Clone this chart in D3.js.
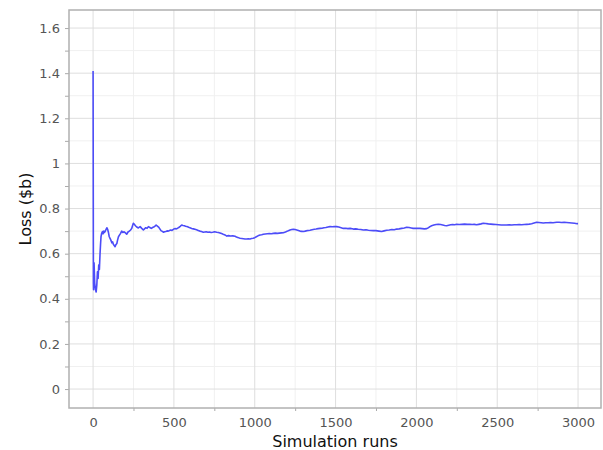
<!DOCTYPE html>
<html>
<head>
<meta charset="utf-8">
<script src="https://cdn.jsdelivr.net/npm/d3@7"></script>
<style>
  html, body { margin: 0; padding: 0; background: #fff; }
  svg { display: block; }
</style>
</head>
<body>
<svg id="chart" width="603" height="450"></svg>
<script>
// Running mean of simulated loss after each simulation run
const runs = [
  0, 2, 3, 6, 10, 15, 19, 23, 27, 31, 35, 39, 43, 46, 49, 53, 58, 62, 66, 70,
  74, 79, 85, 90, 95, 100, 105, 110, 116, 121, 126, 131, 136, 141, 147, 152,
  157, 163, 170, 177, 184, 192, 200, 208, 216, 224, 232, 239, 244, 249, 255,
  262, 270, 280, 291, 301, 311, 318, 326, 334, 342, 351, 360, 368, 375, 383,
  390, 398, 405, 413, 420, 428, 435, 443, 450, 458, 465, 473, 480, 488, 497,
  506, 515, 523, 530, 539, 548, 556, 565, 572, 580, 588, 595, 603, 610, 620,
  630, 640, 650, 660, 670, 682, 691, 700, 710, 720, 730, 740, 752, 765, 775,
  785, 795, 805, 816, 827, 838, 850, 864, 878, 887, 895, 902, 909, 920, 930,
  940, 950, 960, 971, 980, 990, 1000, 1010, 1020, 1033, 1043, 1053, 1065,
  1078, 1090, 1103, 1115, 1128, 1140, 1152, 1165, 1177, 1190, 1200, 1208,
  1218, 1229, 1239, 1250, 1260, 1270, 1280, 1290, 1301, 1312, 1322, 1332,
  1342, 1355, 1368, 1380, 1392, 1404, 1416, 1428, 1440, 1453, 1466, 1480,
  1493, 1507, 1520, 1534, 1548, 1562, 1576, 1590, 1610, 1625, 1640, 1656,
  1672, 1688, 1703, 1718, 1734, 1750, 1768, 1785, 1800, 1816, 1832, 1848,
  1863, 1878, 1893, 1909, 1925, 1940, 1955, 1968, 1980, 1995, 2008, 2022,
  2036, 2050, 2064, 2072, 2080, 2087, 2094, 2108, 2122, 2136, 2150, 2163,
  2175, 2187, 2200, 2212, 2224, 2237, 2249, 2265, 2282, 2298, 2315, 2331,
  2345, 2358, 2372, 2386, 2400, 2414, 2428, 2445, 2460, 2476, 2492, 2508,
  2525, 2541, 2558, 2574, 2590, 2605, 2620, 2636, 2651, 2667, 2682, 2698,
  2713, 2728, 2744, 2758, 2772, 2785, 2800, 2815, 2830, 2845, 2856, 2868,
  2883, 2898, 2914, 2929, 2945, 2962, 2978, 2995, 3000
];
const loss = [
  1.410, 0.470, 0.440, 0.560, 0.470, 0.440, 0.430, 0.460, 0.520, 0.490, 0.550, 0.530, 0.600, 0.640, 0.675, 0.690, 0.698, 0.688, 0.700, 0.694,
  0.698, 0.706, 0.715, 0.708, 0.694, 0.675, 0.668, 0.660, 0.648, 0.652, 0.641, 0.636, 0.631, 0.640, 0.645, 0.662,
  0.675, 0.682, 0.690, 0.700, 0.694, 0.697, 0.692, 0.686, 0.696, 0.700, 0.705, 0.712, 0.724, 0.735, 0.730,
  0.724, 0.718, 0.714, 0.720, 0.712, 0.705, 0.710, 0.715, 0.712, 0.720, 0.716, 0.712, 0.716, 0.718, 0.722,
  0.727, 0.722, 0.718, 0.710, 0.702, 0.699, 0.695, 0.697, 0.698, 0.701, 0.700, 0.703, 0.705, 0.703, 0.708,
  0.711, 0.710, 0.713, 0.716, 0.721, 0.727, 0.725, 0.724, 0.722, 0.720, 0.718, 0.716, 0.714, 0.712, 0.710,
  0.708, 0.706, 0.703, 0.700, 0.698, 0.695, 0.696, 0.697, 0.695, 0.696, 0.694, 0.695, 0.697, 0.695, 0.694,
  0.692, 0.689, 0.686, 0.683, 0.678, 0.680, 0.678, 0.679, 0.677, 0.674, 0.672, 0.670, 0.668, 0.667, 0.666,
  0.665, 0.665, 0.666, 0.665, 0.667, 0.668, 0.671, 0.675, 0.679, 0.683, 0.684, 0.686, 0.687,
  0.688, 0.689, 0.688, 0.690, 0.691, 0.690, 0.691, 0.692, 0.693, 0.696, 0.699, 0.702,
  0.705, 0.707, 0.708, 0.707, 0.705, 0.703, 0.700, 0.699, 0.698, 0.700, 0.702, 0.703,
  0.704, 0.706, 0.708, 0.709, 0.711, 0.712, 0.713, 0.715, 0.716, 0.718, 0.720, 0.719,
  0.720, 0.720, 0.718, 0.715, 0.712, 0.713, 0.711, 0.712, 0.709, 0.710, 0.708, 0.707,
  0.705, 0.706, 0.704, 0.703, 0.702, 0.702, 0.700, 0.698, 0.701, 0.704, 0.705, 0.707,
  0.706, 0.709, 0.710, 0.712, 0.714, 0.717, 0.716, 0.714, 0.712, 0.713, 0.712, 0.712,
  0.711, 0.710, 0.711, 0.714, 0.718, 0.721, 0.724, 0.727, 0.729, 0.730, 0.729, 0.727,
  0.725, 0.724, 0.726, 0.728, 0.729, 0.728, 0.730, 0.729, 0.730, 0.731, 0.730, 0.730,
  0.729, 0.730, 0.728, 0.730, 0.732, 0.735, 0.734, 0.732, 0.731, 0.730, 0.729, 0.728,
  0.727, 0.727, 0.727, 0.728, 0.727, 0.728, 0.728, 0.729, 0.728, 0.729, 0.730, 0.731,
  0.733, 0.736, 0.739, 0.738, 0.737, 0.736, 0.737, 0.737, 0.738, 0.737, 0.738, 0.739,
  0.739, 0.738, 0.739, 0.738, 0.737, 0.736, 0.735, 0.733, 0.733
];

const xTicks = [0, 500, 1000, 1500, 2000, 2500, 3000];
const xMinor = [250, 750, 1250, 1750, 2250, 2750];
const yTicks = [0, 0.2, 0.4, 0.6, 0.8, 1.0, 1.2, 1.4, 1.6];
const yMinor = [0.1, 0.3, 0.5, 0.7, 0.9, 1.1, 1.3, 1.5];
const xTitle = "Simulation runs";
const yTitle = "Loss ($b)";

const plot = { left: 69, right: 601, top: 10, bottom: 408 };
const font = "'DejaVu Sans', sans-serif";

const x = d3.scaleLinear().domain([-149, 3142]).range([plot.left, plot.right]);
const y = d3.scaleLinear().domain([-0.084, 1.68]).range([plot.bottom, plot.top]);

const svg = d3.select("#chart");

// grid: minor first, then major
const grid = svg.append("g");
grid.selectAll(".vminor").data(xMinor).join("line")
  .attr("x1", d => x(d)).attr("x2", d => x(d))
  .attr("y1", plot.top).attr("y2", plot.bottom)
  .attr("stroke", "#f0f0f0").attr("stroke-width", 1);
grid.selectAll(".hminor").data(yMinor).join("line")
  .attr("x1", plot.left).attr("x2", plot.right)
  .attr("y1", d => y(d)).attr("y2", d => y(d))
  .attr("stroke", "#f0f0f0").attr("stroke-width", 1);
grid.selectAll(".vmajor").data(xTicks).join("line")
  .attr("x1", d => x(d)).attr("x2", d => x(d))
  .attr("y1", plot.top).attr("y2", plot.bottom)
  .attr("stroke", "#dedede").attr("stroke-width", 1);
grid.selectAll(".hmajor").data(yTicks).join("line")
  .attr("x1", plot.left).attr("x2", plot.right)
  .attr("y1", d => y(d)).attr("y2", d => y(d))
  .attr("stroke", "#dedede").attr("stroke-width", 1);

// axes: labelled major ticks, short minor tick marks
const xAxis = d3.axisBottom(x).tickValues(xTicks)
  .tickSize(0).tickPadding(10)
  .tickFormat(d3.format("d"));
const xMinorAxis = d3.axisBottom(x).tickValues(xMinor).tickSize(3).tickFormat("");
const yAxis = d3.axisLeft(y).tickValues(yTicks.concat(yMinor))
  .tickSize(4).tickPadding(5)
  .tickFormat(d => yTicks.some(t => Math.abs(t - d) < 1e-9) ? d3.format("~g")(d) : "");

const gx = svg.append("g").attr("transform", `translate(0,${plot.bottom})`).call(xAxis);
const gxm = svg.append("g").attr("transform", `translate(0,${plot.bottom})`).call(xMinorAxis);
const gy = svg.append("g").attr("transform", `translate(${plot.left},0)`).call(yAxis);
[gx, gxm, gy].forEach(g => {
  g.select(".domain").remove();
  g.selectAll(".tick line").attr("stroke", "#aaaaaa");
  g.selectAll(".tick text").attr("fill", "#555555")
    .style("font-family", font).style("font-size", "13px");
});

// series line
const line = d3.line().x((d, i) => x(runs[i])).y(d => y(d));
svg.append("path")
  .datum(loss)
  .attr("d", line)
  .attr("fill", "none")
  .attr("stroke", "#4c4cf8")
  .attr("stroke-width", 1.6)
  .attr("stroke-linejoin", "round");

// frame
svg.append("rect")
  .attr("x", plot.left).attr("y", plot.top)
  .attr("width", plot.right - plot.left).attr("height", plot.bottom - plot.top)
  .attr("fill", "none").attr("stroke", "#b0b0b0").attr("stroke-width", 1.5);

// axis titles
svg.append("text")
  .attr("x", (plot.left + plot.right) / 2).attr("y", 447)
  .attr("text-anchor", "middle")
  .style("font-family", font).style("font-size", "16px").attr("fill", "#111")
  .text(xTitle);
svg.append("text")
  .attr("transform", `translate(31,${(plot.top + plot.bottom) / 2}) rotate(-90)`)
  .attr("text-anchor", "middle")
  .style("font-family", font).style("font-size", "16px").attr("fill", "#111")
  .text(yTitle);
</script>
</body>
</html>
